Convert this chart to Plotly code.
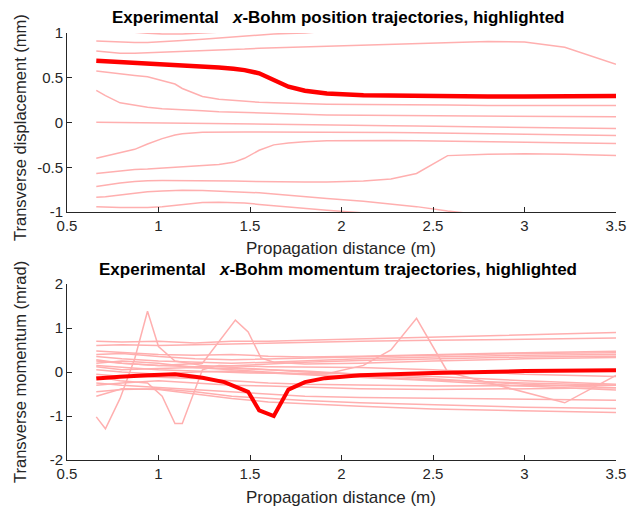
import plotly.graph_objects as go

# ---------------- data: position trajectories (mm) ----------------
z_pos = [0.66, 0.71, 0.79, 0.87, 0.94, 1.02, 1.09, 1.13, 1.24, 1.33, 1.41, 1.47, 1.55,
         1.63, 1.71, 1.80, 1.92, 2.12, 2.27, 2.41, 2.58, 2.80, 3.00, 3.22, 3.50]

pos_a = [1.06, 1.04, 1.02, 1.005, 0.998, 0.99, 0.99, 0.99, 0.999, 1.01, 1.02, 1.03, 1.04,
         1.05, 1.06, 1.07, 1.08, 1.09, 1.10, 1.10, 1.10, 1.10, 1.10, 1.10, 1.10]
pos_b = [0.91, 0.905, 0.90, 0.895, 0.895, 0.90, 0.91, 0.915, 0.93, 0.945, 0.96, 0.97, 0.98,
         0.99, 0.995, 1.0, 1.02, 1.04, 1.05, 1.06, 1.07, 1.08, 1.09, 1.10, 1.10]
pos_c = [0.80, 0.79, 0.775, 0.775, 0.78, 0.785, 0.79, 0.79, 0.80, 0.81, 0.815, 0.82, 0.83,
         0.835, 0.84, 0.845, 0.855, 0.87, 0.875, 0.885, 0.895, 0.905, 0.90, 0.84, 0.65]
pos_e = [0.575, 0.565, 0.545, 0.525, 0.51, 0.47, 0.43, 0.38, 0.29, 0.26, 0.245, 0.235, 0.225,
         0.22, 0.215, 0.21, 0.205, 0.20, 0.20, 0.195, 0.195, 0.19, 0.19, 0.19, 0.19]
pos_f = [0.36, 0.30, 0.22, 0.19, 0.17, 0.155, 0.145, 0.14, 0.13, 0.12, 0.115, 0.11, 0.105,
         0.10, 0.095, 0.09, 0.085, 0.08, 0.078, 0.075, 0.072, 0.07, 0.068, 0.066, 0.064]
pos_g = [0.003, 0.002, 0.0, 0.0, -0.002, -0.004, -0.006, -0.008, -0.01, -0.012, -0.014, -0.016, -0.018,
         -0.02, -0.022, -0.025, -0.028, -0.032, -0.036, -0.04, -0.045, -0.05, -0.055, -0.06, -0.067]
pos_h = [-0.40, -0.375, -0.34, -0.30, -0.24, -0.18, -0.14, -0.125, -0.11, -0.105, -0.105, -0.105, -0.105,
         -0.105, -0.105, -0.105, -0.105, -0.11, -0.112, -0.115, -0.12, -0.125, -0.13, -0.138, -0.146]
pos_i = [-0.57, -0.56, -0.54, -0.525, -0.52, -0.51, -0.505, -0.50, -0.485, -0.47, -0.445, -0.40, -0.31,
         -0.25, -0.23, -0.215, -0.205, -0.20, -0.20, -0.205, -0.21, -0.215, -0.22, -0.228, -0.235]
pos_j = [-0.715, -0.70, -0.675, -0.66, -0.65, -0.648, -0.648, -0.648, -0.65, -0.652, -0.655, -0.657, -0.66,
         -0.662, -0.664, -0.665, -0.665, -0.655, -0.63, -0.57, -0.37, -0.355, -0.35, -0.355, -0.37]
pos_k = [-0.835, -0.83, -0.81, -0.79, -0.775, -0.765, -0.758, -0.756, -0.76, -0.765, -0.77, -0.775, -0.785,
         -0.80, -0.815, -0.83, -0.85, -0.88, -0.91, -0.94, -0.99, -1.04, -1.08, -1.12, -1.16]
pos_l = [-0.94, -0.945, -0.95, -0.95, -0.95, -0.94, -0.925, -0.915, -0.895, -0.89, -0.895, -0.90, -0.915,
         -0.93, -0.945, -0.96, -0.98, -1.01, -1.04, -1.06, -1.08, -1.10, -1.12, -1.14, -1.16]
pos_hl = [0.69, 0.685, 0.675, 0.665, 0.655, 0.645, 0.64, 0.635, 0.625, 0.615, 0.60, 0.585, 0.55,
          0.48, 0.40, 0.355, 0.325, 0.305, 0.30, 0.295, 0.29, 0.29, 0.29, 0.29, 0.295]

pos_light = [pos_a, pos_b, pos_c, pos_e, pos_f, pos_g, pos_h, pos_i, pos_j, pos_k, pos_l]

# ---------------- data: momentum trajectories (mrad) ----------------
z_mom = [0.66, 0.80, 1.00, 1.20, 1.40, 1.60, 1.80, 2.10, 2.50, 3.00, 3.50]

mom_1 = [0.70, 0.68, 0.70, 0.66, 0.70, 0.70, 0.72, 0.75, 0.80, 0.85, 0.895]
mom_2 = [0.60, 0.62, 0.60, 0.62, 0.64, 0.66, 0.68, 0.70, 0.72, 0.75, 0.77]
mom_3 = [0.48, 0.45, 0.40, 0.38, 0.40, 0.36, 0.34, 0.36, 0.40, 0.44, 0.47]
mom_4 = [0.40, 0.42, 0.35, 0.30, 0.28, 0.30, 0.32, 0.34, 0.38, 0.42, 0.44]
mom_5 = [0.35, 0.30, 0.25, 0.22, 0.20, 0.22, 0.25, 0.30, 0.34, 0.38, 0.40]
mom_6 = [0.28, 0.20, 0.15, 0.12, 0.14, 0.18, 0.22, 0.26, 0.30, 0.34, 0.36]
mom_7 = [0.20, 0.25, 0.20, 0.10, 0.05, 0.00, -0.05, -0.10, -0.18, -0.25, -0.30]
mom_8 = [0.12, 0.05, 0.08, 0.10, 0.08, 0.05, 0.02, -0.05, -0.15, -0.28, -0.36]
mom_9 = [0.05, 0.00, -0.05, 0.00, 0.02, -0.02, -0.06, -0.12, -0.20, -0.32, -0.41]
mom_10 = [-0.05, -0.10, -0.12, -0.15, -0.20, -0.25, -0.28, -0.30, -0.32, -0.31, -0.30]
mom_11 = [-0.25, -0.30, -0.35, -0.40, -0.45, -0.50, -0.55, -0.58, -0.60, -0.62, -0.64]
mom_12 = [-0.45, -0.40, -0.38, -0.45, -0.55, -0.60, -0.65, -0.70, -0.75, -0.80, -0.83]
mom_13 = [-0.55, -0.38, -0.40, -0.50, -0.60, -0.68, -0.72, -0.78, -0.84, -0.88, -0.92]
mom_14 = [-0.30, -0.25, -0.20, -0.25, -0.30, -0.32, -0.35, -0.38, -0.40, -0.38, -0.36]

mom_light = [mom_1, mom_2, mom_3, mom_4, mom_5, mom_6, mom_7, mom_8, mom_9,
             mom_10, mom_11, mom_12, mom_13, mom_14]

spike1_z = [0.66, 0.71, 0.79, 0.87, 0.94, 1.00, 1.09, 1.24, 1.41, 1.60, 1.80, 2.10, 2.50, 3.00, 3.50]
spike1_p = [-1.02, -1.29, -0.60, 0.30, 1.38, 0.58, 0.25, 0.15, 0.10, 0.05, 0.00, -0.05, -0.10, -0.20, -0.28]
spike2_z = [0.66, 0.79, 0.94, 1.02, 1.09, 1.13, 1.24, 1.33, 1.60, 2.10, 2.50, 3.00, 3.50]
spike2_p = [-0.10, -0.20, -0.25, -0.55, -1.17, -1.17, 0.05, 0.15, 0.12, 0.10, 0.05, -0.05, -0.10]
spike3_z = [0.66, 0.80, 1.00, 1.24, 1.42, 1.49, 1.56, 1.63, 1.80, 2.10, 2.50, 3.00, 3.50]
spike3_p = [0.25, 0.20, 0.15, 0.20, 1.18, 0.91, 0.32, 0.22, 0.18, 0.20, 0.25, 0.30, 0.33]
spike4_z = [0.66, 1.00, 1.50, 1.92, 2.12, 2.27, 2.41, 2.58, 3.22, 3.50]
spike4_p = [0.15, 0.05, -0.02, -0.04, 0.15, 0.50, 1.22, 0.00, -0.70, -0.08]
spikes = [(spike1_z, spike1_p), (spike2_z, spike2_p), (spike3_z, spike3_p), (spike4_z, spike4_p)]

mom_hl_z = [0.66, 0.71, 0.79, 0.94, 1.09, 1.24, 1.36, 1.49, 1.55, 1.63, 1.71, 1.80, 1.91, 2.10, 2.50, 3.00, 3.50]
mom_hl_p = [-0.15, -0.13, -0.11, -0.075, -0.05, -0.13, -0.23, -0.45, -0.87, -1.00, -0.40, -0.23, -0.14, -0.075, -0.02, 0.02, 0.04]

x_ticks = [0.5, 1, 1.5, 2, 2.5, 3, 3.5]
pos_ticks = [-1, -0.5, 0, 0.5, 1]
mom_ticks = [-2, -1, 0, 1, 2]

# ---------------- figure ----------------
LIGHT = "rgba(255,175,175,1)"
HL = "#ff0000"
FONT = "Liberation Sans, Arial, sans-serif"
AX = "#262626"

fig = go.Figure()
for v in pos_light:
    fig.add_trace(go.Scatter(x=z_pos, y=v, mode="lines", line=dict(color=LIGHT, width=1.5),
                             xaxis="x", yaxis="y", showlegend=False, hoverinfo="skip"))
fig.add_trace(go.Scatter(x=z_pos, y=pos_hl, mode="lines", line=dict(color=HL, width=4.5),
                         xaxis="x", yaxis="y", showlegend=False))

for v in mom_light:
    fig.add_trace(go.Scatter(x=z_mom, y=v, mode="lines", line=dict(color=LIGHT, width=1.5),
                             xaxis="x2", yaxis="y2", showlegend=False, hoverinfo="skip"))
for zz, pp in spikes:
    fig.add_trace(go.Scatter(x=zz, y=pp, mode="lines", line=dict(color=LIGHT, width=1.5),
                             xaxis="x2", yaxis="y2", showlegend=False, hoverinfo="skip"))
fig.add_trace(go.Scatter(x=mom_hl_z, y=mom_hl_p, mode="lines", line=dict(color=HL, width=4),
                         xaxis="x2", yaxis="y2", showlegend=False))

W, H = 628, 510
xdom = [67 / W, 616 / W]
ax_common = dict(showline=True, linecolor=AX, linewidth=1, ticks="inside", ticklen=5,
                 tickcolor=AX, showgrid=False, zeroline=False, mirror=False, automargin=False,
                 tickfont=dict(family=FONT, size=15, color=AX))

fig.update_layout(
    template="none",
    width=W, height=H, margin=dict(l=0, r=0, t=0, b=0, pad=0, autoexpand=False),
    paper_bgcolor="white", plot_bgcolor="white",
    xaxis=dict(domain=xdom, range=[0.5, 3.5], tickvals=x_ticks,
               ticktext=[str(t) for t in x_ticks], anchor="y", **ax_common),
    yaxis=dict(domain=[(H - 212) / H, (H - 33) / H], range=[-1, 1], tickvals=pos_ticks,
               ticktext=[str(t) for t in pos_ticks], anchor="x", **ax_common),
    xaxis2=dict(domain=xdom, range=[0.5, 3.5], tickvals=x_ticks,
                ticktext=[str(t) for t in x_ticks], anchor="y2", **ax_common),
    yaxis2=dict(domain=[(H - 460) / H, (H - 284) / H], range=[-2, 2], tickvals=mom_ticks,
                ticktext=[str(t) for t in mom_ticks], anchor="x2", **ax_common),
)

def ann(text, x, y, size, angle=0, color=AX):
    fig.add_annotation(text=text, x=x / W, y=1 - y / H, xref="paper", yref="paper",
                       showarrow=False, textangle=angle, xanchor="center", yanchor="middle",
                       font=dict(family=FONT, size=size, color=color))

ann("<b>Experimental&nbsp;&nbsp;&nbsp;<i>x</i>-Bohm position trajectories, highlighted</b>", 338, 18, 17, color="#000000")
ann("<b>Experimental&nbsp;&nbsp;&nbsp;<i>x</i>-Bohm momentum trajectories, highlighted</b>", 338, 269, 17, color="#000000")
ann("Propagation distance (m)", 341, 248, 17)
ann("Propagation distance (m)", 341, 497, 17)
ann("Transverse displacement (mm)", 20, 128, 16.5, angle=-90)
ann("Transverse momentum (mrad)", 20, 372, 16.5, angle=-90)

fig.write_html(
    "out.html",
    config={"displayModeBar": False},
    post_script="document.body.style.margin='0';document.body.style.padding='0';",
)
